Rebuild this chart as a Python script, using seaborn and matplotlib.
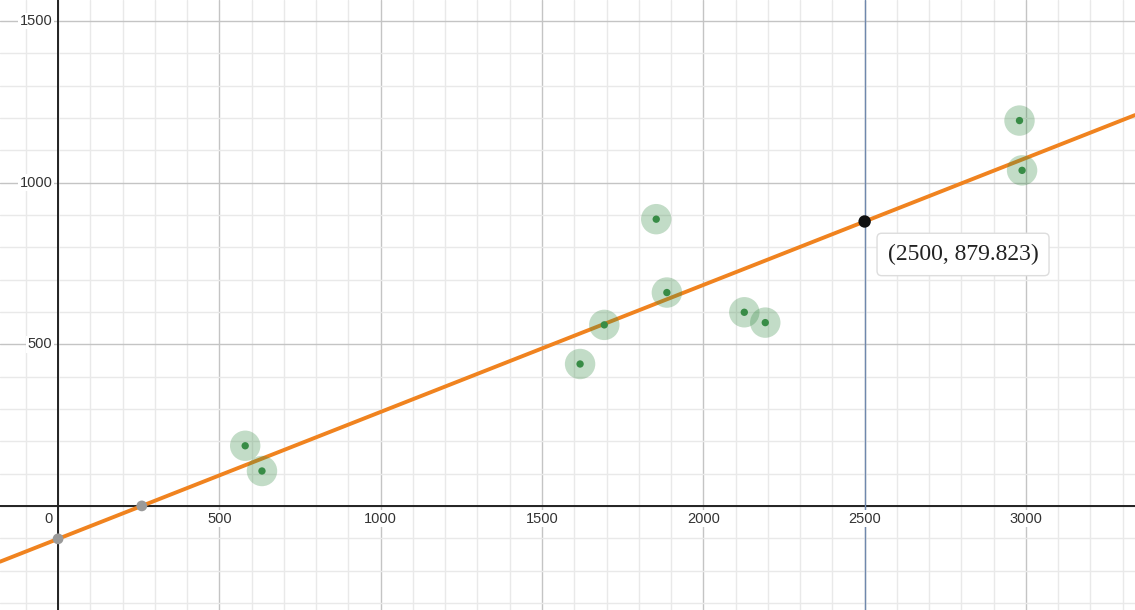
import matplotlib
matplotlib.use("Agg")
import matplotlib.pyplot as plt
import numpy as np
import pandas as pd
import seaborn as sns

# data
x_vals = [580, 632, 1618, 1693, 1854, 1887, 2127, 2192, 2980, 2988]
y_vals = [186, 108, 439, 560, 887, 660, 599, 567, 1192, 1038]
slope = 0.3927
intercept = -101.9
marked_x = 2500
marked_label = "(2500, 879.823)"
x_ticks = [500, 1000, 1500, 2000, 2500, 3000]
y_ticks = [500, 1000, 1500]

XLIM = (-180, 3338)
YLIM = (-322, 1565)

df = pd.DataFrame({"x": x_vals, "y": y_vals})
line_x = np.array(XLIM, dtype=float)
line_df = pd.DataFrame({"x": line_x, "y": slope * line_x + intercept})

sns.set_style("white")
plt.rcParams["font.family"] = ["Liberation Sans", "DejaVu Sans"]

fig = plt.figure(figsize=(11.35, 6.10), dpi=100)
ax = fig.add_axes([0, 0, 1, 1])
ax.set_xlim(*XLIM)
ax.set_ylim(*YLIM)
for s in ax.spines.values():
    s.set_visible(False)
ax.set_xticks([])
ax.set_yticks([])

# grid
for v in range(-100, 3400, 100):
    major = v % 500 == 0
    ax.axvline(v, color="#c4c4c4" if major else "#e9e9e9", lw=1.0, zorder=0)
for v in range(-300, 1600, 100):
    major = v % 500 == 0
    ax.axhline(v, color="#c4c4c4" if major else "#e9e9e9", lw=1.0, zorder=0)
ax.axvline(0, color="#222222", lw=1.4, zorder=1)
ax.axhline(0, color="#222222", lw=1.4, zorder=1)
ax.axvline(marked_x, color="#6f88ad", lw=1.0, zorder=1)

# tick labels
lab_kw = dict(fontsize=10.5, color="#333333", zorder=2,
              bbox=dict(boxstyle="square,pad=0.1", fc="white", ec="none"))
for t in x_ticks:
    ax.text(t, -40, str(t), ha="center", va="center", **lab_kw)
for t in y_ticks:
    ax.text(-18, t, str(t), ha="right", va="center", **lab_kw)
ax.text(-18, -40, "0", ha="right", va="center", **lab_kw)

# regression line
sns.lineplot(data=line_df, x="x", y="y", ax=ax, color="#f0831f", lw=2.8,
             zorder=3, legend=False)

# data points with halo
sns.scatterplot(data=df, x="x", y="y", ax=ax, s=480, color="#388c46",
                alpha=0.3, edgecolor="none", zorder=4, legend=False)
sns.scatterplot(data=df, x="x", y="y", ax=ax, s=28, color="#388c46",
                edgecolor="none", zorder=5, legend=False)

# intercepts
x_int = -intercept / slope
ax.scatter([0, x_int], [intercept, 0], s=60, color="#9a9a9a", zorder=5,
           edgecolor="none")

# marked point
my = slope * marked_x + intercept
ax.scatter([marked_x], [my], s=80, color="#111111", zorder=6, edgecolor="none")
ax.text(marked_x + 305, my - 102, marked_label, ha="center", va="center",
        fontsize=17, family=["Liberation Serif", "DejaVu Serif"], color="#222222",
        zorder=7,
        bbox=dict(boxstyle="round,pad=0.45,rounding_size=0.2", fc="white",
                  ec="#dddddd", lw=1.0))

ax.set_xlabel("")
ax.set_ylabel("")
fig.savefig("out.png", dpi=100)
